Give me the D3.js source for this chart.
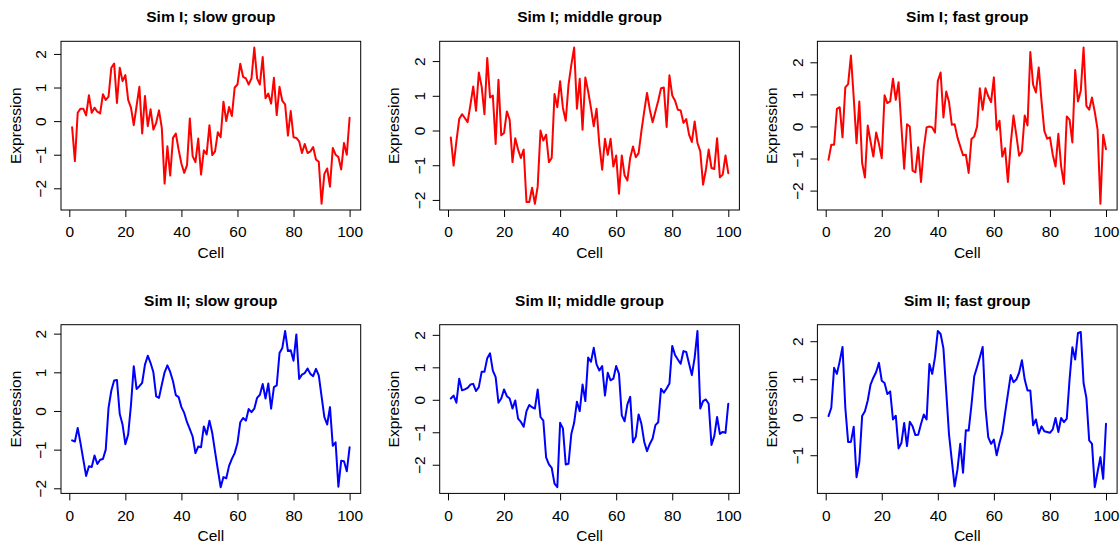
<!DOCTYPE html>
<html>
<head>
<meta charset="utf-8">
<script src="https://cdn.jsdelivr.net/npm/d3@7"></script>
<style>
  html, body { margin: 0; padding: 0; background: #fff; }
  svg { display: block; }
  text { font-family: "Liberation Sans", Arial, Helvetica, sans-serif; fill: #000; }
</style>
</head>
<body>
<svg id="chart" width="1120" height="544"></svg>
<script>
// Simulated expression profiles over 100 cells
const cells = d3.range(1, 101);

const sim1Slow = [
  -0.18, -1.19, 0.25, 0.37, 0.37, 0.17, 0.77, 0.25, 0.40, 0.28,
  0.23, 0.80, 0.63, 0.73, 1.59, 1.71, 0.54, 1.59, 1.19, 1.37,
  0.63, 0.40, -0.12, 0.45, 1.02, -0.37, 0.75, -0.15, 0.35, -0.25,
  -0.05, 0.32, -0.20, -1.86, -0.75, -1.62, -0.50, -0.37, -0.85, -1.27,
  -1.54, -1.31, 0.08, -1.04, -1.22, -0.52, -1.59, -0.87, -0.98, -0.12,
  -1.01, -0.90, -0.33, -0.48, 0.58, 0.00, 0.42, 0.15, 1.00, 1.09,
  1.71, 1.32, 1.27, 1.09, 1.27, 2.19, 1.27, 1.09, 1.91, 0.68,
  0.82, 0.52, 1.29, 0.18, 1.02, 0.60, 0.50, -0.43, 0.30, -0.48,
  -0.50, -0.60, -0.95, -0.68, -0.95, -0.90, -0.77, -1.14, -1.21, -2.46,
  -1.57, -1.41, -1.95, -0.80, -1.00, -1.07, -1.44, -0.65, -1.00, 0.10
];

const sim1Middle = [
  -0.20, -1.01, -0.31, 0.33, 0.47, 0.36, 0.24, 0.74, 1.27, 0.57,
  1.67, 1.27, 0.47, 2.09, 0.95, 1.01, -0.39, 1.46, -0.14, -0.07,
  0.55, 0.31, -0.91, -0.22, -0.55, -0.79, -0.55, -2.06, -2.06, -1.65,
  -2.11, -1.61, 0.00, -0.29, -0.12, -0.91, -0.79, 1.05, 0.67, 1.42,
  0.65, 0.28, 1.32, 1.89, 2.39, 0.63, 1.49, 0.02, 1.53, 1.13,
  0.65, 0.12, 0.63, -0.41, -1.13, -0.24, -0.70, -0.24, -1.04, -0.72,
  -1.82, -0.72, -1.29, -1.44, -0.79, -0.46, -0.77, -0.65, -0.02, 0.55,
  1.08, 0.60, 0.24, 0.55, 0.86, 1.22, 1.24, 0.10, 1.59, 1.01,
  0.86, 0.60, 0.58, 0.22, 0.33, -0.12, -0.33, 0.26, -0.36, -0.60,
  -1.56, -1.13, -0.55, -1.08, -1.11, -0.22, -1.35, -1.27, -0.72, -1.23
];

const sim1Fast = [
  -1.04, -0.57, -0.57, 0.55, 0.60, -0.34, 1.22, 1.32, 2.21, 0.90,
  -0.52, 0.78, -1.14, -1.59, 0.03, -0.47, -0.94, -0.19, -0.55, -0.99,
  0.97, 0.73, 0.78, 1.49, 0.83, 1.38, 0.00, -1.32, 0.07, 0.00,
  -1.38, -1.43, -0.65, -1.73, -0.68, -0.03, 0.00, -0.03, -0.19, 1.42,
  1.68, 0.28, 1.09, 0.76, 0.05, 0.07, -0.34, -0.62, -0.90, -0.88,
  -1.45, -0.39, -0.31, 0.00, 1.19, 0.52, 1.19, 0.94, 0.76, 1.53,
  -0.10, 0.18, -0.94, -0.68, -1.73, -0.55, 0.34, -0.26, -0.91, -0.78,
  0.34, 0.03, 2.32, 1.30, 1.06, 1.84, 0.78, -0.14, -0.38, -0.34,
  -0.88, -1.25, -0.23, -1.25, -1.79, 0.31, 0.21, -0.50, 1.76, 0.78,
  1.11, 2.46, 0.64, 0.52, 0.90, 0.45, -0.10, -2.41, -0.26, -0.71
];

const sim2Slow = [
  -0.76, -0.79, -0.44, -0.83, -1.26, -1.68, -1.43, -1.45, -1.15, -1.37,
  -1.26, -1.24, -1.00, 0.08, 0.53, 0.79, 0.80, -0.08, -0.35, -0.86,
  -0.61, 0.15, 1.16, 0.57, 0.64, 0.73, 1.20, 1.43, 1.24, 1.00,
  0.38, 0.34, 0.68, 1.00, 1.18, 1.01, 0.77, 0.41, 0.36, 0.10,
  -0.05, -0.29, -0.47, -0.66, -1.09, -0.92, -0.94, -0.40, -0.61, -0.25,
  -0.57, -1.05, -1.52, -1.97, -1.71, -1.74, -1.42, -1.24, -1.09, -0.83,
  -0.29, -0.18, -0.25, 0.05, -0.03, 0.06, 0.34, 0.42, 0.70, 0.32,
  0.71, 0.06, 0.62, 0.66, 1.50, 1.63, 2.07, 1.55, 1.57, 1.30,
  1.98, 0.83, 0.94, 0.98, 1.10, 0.96, 0.90, 1.09, 0.92, 0.38,
  -0.16, -0.35, 0.10, -0.90, -0.81, -1.96, -1.29, -1.30, -1.56, -0.94
];

const sim2Middle = [
  0.04, 0.13, -0.09, 0.65, 0.29, 0.32, 0.37, 0.47, 0.49, 0.27,
  0.39, 0.86, 0.86, 1.28, 1.43, 0.90, 0.70, -0.09, 0.04, 0.32,
  0.11, 0.04, -0.27, -0.02, -0.58, -0.68, -0.83, -0.35, -0.16, -0.23,
  -0.27, 0.32, -0.53, -0.64, -1.77, -1.99, -2.10, -2.58, -2.69, -0.71,
  -0.88, -1.99, -1.97, -1.05, -0.71, -0.06, -0.35, 0.47, -0.04, 1.30,
  1.17, 1.60, 1.09, 0.90, 1.04, 0.13, 0.83, 0.60, 0.65, 1.04,
  0.80, -0.48, -0.66, -0.14, 0.09, -1.31, -1.14, -0.45, -0.74, -1.29,
  -1.58, -1.36, -1.19, -0.78, -0.69, 0.34, 0.22, 0.35, 0.50, 1.66,
  1.38, 1.24, 1.11, 1.50, 1.47, 1.11, 0.76, 1.30, 2.12, -0.27,
  -0.04, 0.01, -0.12, -1.39, -1.12, -0.53, -1.05, -0.99, -1.02, -0.12
];

const sim2Fast = [
  0.03, 0.25, 1.30, 1.14, 1.47, 1.85, 0.25, -0.65, -0.65, -0.25,
  -1.58, -1.18, 0.03, 0.16, 0.44, 0.86, 1.04, 1.19, 1.43, 0.96,
  0.90, 0.61, 0.68, -0.06, 0.04, -0.82, -0.68, -0.15, -0.76, -0.12,
  -0.24, -0.47, -0.46, -0.18, 0.07, -0.06, 1.40, 1.14, 1.58, 2.27,
  2.19, 1.81, 0.68, -0.46, -1.14, -1.82, -1.38, -0.70, -1.46, -0.34,
  -0.35, 0.32, 1.08, 1.32, 1.58, 1.85, 0.25, -0.53, -0.70, -0.59,
  -1.00, -0.68, -0.41, 0.11, 0.61, 1.11, 0.92, 0.99, 1.17, 1.50,
  0.99, 0.70, 0.70, -0.21, -0.06, -0.43, -0.24, -0.37, -0.39, -0.41,
  -0.32, -0.02, -0.39, -0.02, -0.13, -0.04, 0.99, 1.84, 1.52, 2.22,
  2.24, 0.90, 0.51, -0.61, -0.70, -1.84, -1.44, -1.05, -1.62, -0.17
];

const panelTitles = [
  "Sim I; slow group", "Sim I; middle group", "Sim I; fast group",
  "Sim II; slow group", "Sim II; middle group", "Sim II; fast group"
];
const xTickValues = [0, 20, 40, 60, 80, 100];
const yTicksFull = [-2, -1, 0, 1, 2];
const yTicksUpper = [-1, 0, 1, 2];
const xLabel = "Cell";
const yLabel = "Expression";

// Layout of the 2 x 3 grid of plot boxes
const colLeft = [61.0, 439.7, 817.4];
const rowTop = [41.3, 324.7];
const boxW = 299.7;
const boxH = 168.7;
const fontSize = 15.5;

const panels = [
  { title: panelTitles[0], values: sim1Slow,   color: "#ff0000", yTicks: yTicksFull,  row: 0, col: 0 },
  { title: panelTitles[1], values: sim1Middle, color: "#ff0000", yTicks: yTicksFull,  row: 0, col: 1 },
  { title: panelTitles[2], values: sim1Fast,   color: "#ff0000", yTicks: yTicksFull,  row: 0, col: 2 },
  { title: panelTitles[3], values: sim2Slow,   color: "#0000ff", yTicks: yTicksFull,  row: 1, col: 0 },
  { title: panelTitles[4], values: sim2Middle, color: "#0000ff", yTicks: yTicksFull,  row: 1, col: 1 },
  { title: panelTitles[5], values: sim2Fast,   color: "#0000ff", yTicks: yTicksUpper, row: 1, col: 2 }
];

const svg = d3.select("#chart");
svg.append("rect").attr("width", 1120).attr("height", 544).attr("fill", "#fff");

// R-style axis range: data extent widened by 4% on each side
function padded(extent) {
  const r = extent[1] - extent[0];
  return [extent[0] - 0.04 * r, extent[1] + 0.04 * r];
}

const fmt = d => d3.format("d")(d).replace("-", "\u2212");

panels.forEach(p => {
  const left = colLeft[p.col];
  const top = rowTop[p.row];
  const g = svg.append("g").attr("transform", `translate(${left},${top})`);

  const x = d3.scaleLinear().domain(padded(d3.extent(cells))).range([0, boxW]);
  const y = d3.scaleLinear().domain(padded(d3.extent(p.values))).range([boxH, 0]);

  // data line
  const line = d3.line().x((d, i) => x(cells[i])).y(d => y(d));
  g.append("path")
    .datum(p.values)
    .attr("d", line)
    .attr("fill", "none")
    .attr("stroke", p.color)
    .attr("stroke-width", 2)
    .attr("stroke-linejoin", "round")
    .attr("stroke-linecap", "round");

  // x axis
  const xAxis = g.append("g")
    .attr("transform", `translate(0,${boxH})`)
    .call(d3.axisBottom(x).tickValues(xTickValues).tickSize(7).tickSizeOuter(0).tickFormat(fmt));
  xAxis.select(".domain").remove();
  xAxis.selectAll(".tick line").attr("stroke", "#000");
  xAxis.selectAll(".tick text")
    .attr("y", 27.4).attr("dy", 0)
    .style("font-size", fontSize + "px");

  // y axis with labels parallel to the axis
  const yAxis = g.append("g")
    .call(d3.axisLeft(y).tickValues(p.yTicks).tickSize(7).tickSizeOuter(0).tickFormat(fmt));
  yAxis.select(".domain").remove();
  yAxis.selectAll(".tick line").attr("stroke", "#000");
  yAxis.selectAll(".tick text")
    .attr("x", null).attr("dy", null)
    .attr("transform", "translate(-14.7,0) rotate(-90)")
    .attr("text-anchor", "middle")
    .style("font-size", fontSize + "px");

  // plot box
  g.append("rect")
    .attr("x", 0).attr("y", 0).attr("width", boxW).attr("height", boxH)
    .attr("fill", "none").attr("stroke", "#000").attr("stroke-width", 1);

  // title and axis labels
  g.append("text")
    .attr("x", boxW / 2).attr("y", -19)
    .attr("text-anchor", "middle")
    .style("font-size", fontSize + "px").style("font-weight", "bold")
    .text(p.title);

  g.append("text")
    .attr("x", boxW / 2).attr("y", boxH + 48)
    .attr("text-anchor", "middle")
    .style("font-size", fontSize + "px")
    .text(xLabel);

  g.append("text")
    .attr("transform", `translate(-40.4,${boxH / 2}) rotate(-90)`)
    .attr("text-anchor", "middle")
    .style("font-size", fontSize + "px")
    .text(yLabel);
});
</script>
</body>
</html>
